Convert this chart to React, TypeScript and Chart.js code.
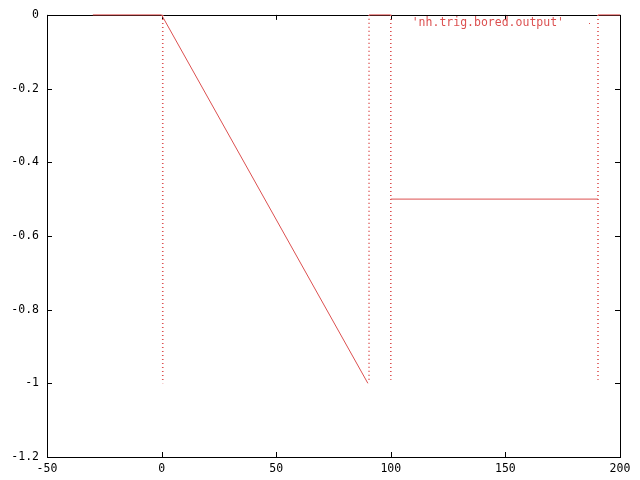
import { useEffect, useRef } from 'react';
import { Chart, registerables } from 'chart.js';

Chart.register(...registerables);

// valores
const xTicks = [-50, 0, 50, 100, 150, 200];
const yTicks = [0, -0.2, -0.4, -0.6, -0.8, -1, -1.2];

const flatStart = [{ x: -30, y: 0 }, { x: 0, y: 0 }];
const ramp = [{ x: 0, y: 0 }, { x: 90, y: -1 }];
const flatMid = [{ x: 90.5, y: 0 }, { x: 100, y: 0 }];
const halfLevel = [{ x: 100, y: -0.5 }, { x: 190.4, y: -0.5 }];
const flatEnd = [{ x: 190.4, y: 0 }, { x: 200, y: 0 }];

const jumps = [
  [{ x: 0.5, y: 0 }, { x: 0.5, y: -1 }],
  [{ x: 90.5, y: -0.99 }, { x: 90.5, y: 0 }],
  [{ x: 100, y: 0 }, { x: 100, y: -0.99 }],
  [{ x: 190.4, y: 0 }, { x: 190.4, y: -0.99 }],
];

const seriesName = "'nh.trig.bored.output'";
const red = 'rgb(220,80,80)';
const font = '"DejaVu Sans Mono", monospace';

const framePlugin = {
  id: 'frame',
  beforeDatasetsDraw(chart: any) {
    const { ctx, chartArea: a, scales } = chart;
    ctx.save();
    ctx.strokeStyle = '#000';
    ctx.lineWidth = 1;
    ctx.strokeRect(Math.round(a.left) + 0.5, Math.round(a.top) + 0.5, Math.round(a.right - a.left), Math.round(a.bottom - a.top));
    ctx.beginPath();
    xTicks.forEach((v) => {
      const px = Math.round(scales.x.getPixelForValue(v)) + 0.5;
      ctx.moveTo(px, a.bottom);
      ctx.lineTo(px, a.bottom - 5);
      ctx.moveTo(px, a.top);
      ctx.lineTo(px, a.top + 5);
    });
    yTicks.forEach((v) => {
      const py = Math.round(scales.y.getPixelForValue(v)) + 0.5;
      ctx.moveTo(a.left, py);
      ctx.lineTo(a.left + 5, py);
      ctx.moveTo(a.right, py);
      ctx.lineTo(a.right - 5, py);
    });
    ctx.stroke();
    ctx.restore();
  },
  afterDraw(chart: any) {
    const { ctx } = chart;
    ctx.save();
    ctx.fillStyle = red;
    ctx.font = '11.5px ' + font;
    ctx.textBaseline = 'middle';
    ctx.textAlign = 'right';
    ctx.fillText(seriesName, 564, 23);
    ctx.fillRect(589, 23, 1, 1);
    ctx.restore();
  },
};

const App = () => {
  const chartRef = useRef<HTMLCanvasElement>(null);
  const chartInstance = useRef<Chart>();

  useEffect(() => {
    if (!chartRef.current) return;
    const ctx = chartRef.current.getContext('2d');
    if (!ctx) return;
    if (chartInstance.current) chartInstance.current.destroy();

    const solid = (data: { x: number; y: number }[]) => ({
      data,
      borderColor: red,
      borderWidth: 1,
      showLine: true,
      pointRadius: 0,
      clip: false as const,
    });
    const dotted = (data: { x: number; y: number }[]) => ({
      ...solid(data),
      borderWidth: 1.6,
      borderDash: [1, 3],
    });

    chartInstance.current = new Chart(ctx, {
      type: 'scatter',
      data: {
        datasets: [
          solid(flatStart),
          solid(ramp),
          solid(flatMid),
          solid(halfLevel),
          solid(flatEnd),
          ...jumps.map(dotted),
        ],
      },
      options: {
        responsive: true,
        maintainAspectRatio: false,
        animation: false,
        layout: { padding: { top: 14, right: 20, left: 0, bottom: 0 } },
        plugins: { legend: { display: false }, tooltip: { enabled: false } },
        scales: {
          x: {
            type: 'linear',
            min: -50,
            max: 200,
            grid: { display: false, drawTicks: false },
            border: { display: false },
            afterBuildTicks: (s: any) => { s.ticks = xTicks.map((v) => ({ value: v })); },
            afterFit: (s: any) => { s.height = 23; },
            ticks: {
              color: '#000',
              padding: 5,
              maxRotation: 0,
              font: { family: font, size: 11.5 },
              callback: (v: any) => String(v),
            },
          },
          y: {
            type: 'linear',
            min: -1.2,
            max: 0,
            grid: { display: false, drawTicks: false },
            border: { display: false },
            afterBuildTicks: (s: any) => { s.ticks = yTicks.map((v) => ({ value: v })); },
            afterFit: (s: any) => { s.width = 47; },
            ticks: {
              color: '#000',
              padding: 8,
              font: { family: font, size: 11.5 },
              callback: (v: any) => String(Math.round(Number(v) * 10) / 10),
            },
          },
        },
      },
      plugins: [framePlugin],
    });

    return () => {
      if (chartInstance.current) chartInstance.current.destroy();
    };
  }, []);

  return (
    <div style={{ position: 'fixed', left: 0, top: 0, width: 640, height: 480, background: '#fff' }}>
      <canvas ref={chartRef} />
    </div>
  );
};

export default App;
